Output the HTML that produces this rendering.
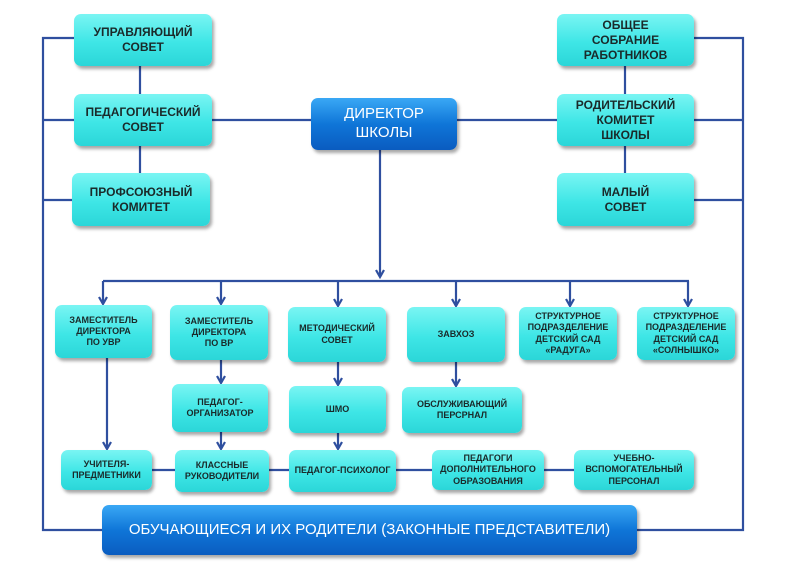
<!DOCTYPE html>
<html><head><meta charset="utf-8"><style>
body{margin:0;width:799px;height:565px;background:#fff;position:relative;overflow:hidden;font-family:"Liberation Sans",sans-serif}
.b{position:absolute;box-sizing:border-box;border-radius:7px;background:linear-gradient(180deg,#7af5f3 0%,#3ee6e6 55%,#2bd6d8 100%);box-shadow:2px 3px 3px rgba(0,0,0,.35);display:flex;align-items:center;justify-content:center;text-align:center;font-weight:bold;color:#1a2a2a;line-height:1.25}
.l{font-size:12px}.s{font-size:9px}
.d{background:linear-gradient(180deg,#3aa8f5 0%,#0f76d8 50%,#0a5cc0 100%);color:#fff;font-weight:normal}
svg{position:absolute;left:0;top:0}
</style></head><body>
<svg width="799" height="565">
<defs><marker id="a" markerWidth="10" markerHeight="10" refX="8" refY="5" orient="auto" markerUnits="userSpaceOnUse"><path d="M1,1 L8,5 L1,9" fill="none" stroke="#2f4f9f" stroke-width="2.2"/></marker></defs>
<g stroke="#2f4f9f" stroke-width="2.2" fill="none">
<path d="M74,38 H43 V530 H102"/><path d="M43,120 H74"/><path d="M43,200 H72"/>
<path d="M694,38 H743 V530 H637"/><path d="M694,120 H743"/><path d="M694,200 H743"/>
<path d="M140,66 V94 M140,146 V173 M625,66 V94 M625,146 V173"/>
<path d="M212,120 H311 M457,120 H557"/>
<path d="M380,150 V277" marker-end="url(#a)"/>
<path d="M103,281 H689"/>
<path d="M103,281 V304" marker-end="url(#a)"/><path d="M221,281 V304" marker-end="url(#a)"/><path d="M338,281 V306" marker-end="url(#a)"/><path d="M456,281 V306" marker-end="url(#a)"/><path d="M570,281 V306" marker-end="url(#a)"/><path d="M688,281 V306" marker-end="url(#a)"/>
<path d="M107,358 V449" marker-end="url(#a)"/>
<path d="M221,360 V383" marker-end="url(#a)"/><path d="M221,432 V449" marker-end="url(#a)"/>
<path d="M338,362 V385" marker-end="url(#a)"/><path d="M338,433 V449" marker-end="url(#a)"/>
<path d="M456,362 V386" marker-end="url(#a)"/>
<path d="M152,470 H175 M269,470 H289 M396,470 H432 M544,470 H574"/>
</g></svg>
<div class="b l" style="left:74px;top:14px;width:138px;height:52px">УПРАВЛЯЮЩИЙ<br>СОВЕТ</div>
<div class="b l" style="left:74px;top:94px;width:138px;height:52px">ПЕДАГОГИЧЕСКИЙ<br>СОВЕТ</div>
<div class="b l" style="left:72px;top:173px;width:138px;height:53px">ПРОФСОЮЗНЫЙ<br>КОМИТЕТ</div>
<div class="b d" style="left:311px;top:98px;width:146px;height:52px;font-size:15px">ДИРЕКТОР<br>ШКОЛЫ</div>
<div class="b l" style="left:557px;top:14px;width:137px;height:52px">ОБЩЕЕ<br>СОБРАНИЕ<br>РАБОТНИКОВ</div>
<div class="b l" style="left:557px;top:94px;width:137px;height:52px">РОДИТЕЛЬСКИЙ<br>КОМИТЕТ<br>ШКОЛЫ</div>
<div class="b l" style="left:557px;top:173px;width:137px;height:53px">МАЛЫЙ<br>СОВЕТ</div>
<div class="b s" style="left:55px;top:305px;width:97px;height:53px">ЗАМЕСТИТЕЛЬ<br>ДИРЕКТОРА<br>ПО УВР</div>
<div class="b s" style="left:170px;top:305px;width:98px;height:55px">ЗАМЕСТИТЕЛЬ<br>ДИРЕКТОРА<br>ПО ВР</div>
<div class="b s" style="left:288px;top:307px;width:98px;height:55px">МЕТОДИЧЕСКИЙ<br>СОВЕТ</div>
<div class="b s" style="left:407px;top:307px;width:98px;height:55px">ЗАВХОЗ</div>
<div class="b s" style="left:519px;top:307px;width:98px;height:53px">СТРУКТУРНОЕ<br>ПОДРАЗДЕЛЕНИЕ<br>ДЕТСКИЙ САД<br>«РАДУГА»</div>
<div class="b s" style="left:637px;top:307px;width:98px;height:53px">СТРУКТУРНОЕ<br>ПОДРАЗДЕЛЕНИЕ<br>ДЕТСКИЙ САД<br>«СОЛНЫШКО»</div>
<div class="b s" style="left:172px;top:384px;width:96px;height:48px">ПЕДАГОГ-<br>ОРГАНИЗАТОР</div>
<div class="b s" style="left:289px;top:386px;width:97px;height:47px">ШМО</div>
<div class="b s" style="left:402px;top:387px;width:120px;height:46px">ОБСЛУЖИВАЮЩИЙ<br>ПЕРСРНАЛ</div>
<div class="b s" style="left:61px;top:450px;width:91px;height:40px">УЧИТЕЛЯ-<br>ПРЕДМЕТНИКИ</div>
<div class="b s" style="left:175px;top:450px;width:94px;height:42px">КЛАССНЫЕ<br>РУКОВОДИТЕЛИ</div>
<div class="b s" style="left:289px;top:450px;width:107px;height:42px">ПЕДАГОГ-ПСИХОЛОГ</div>
<div class="b s" style="left:432px;top:450px;width:112px;height:40px">ПЕДАГОГИ<br>ДОПОЛНИТЕЛЬНОГО<br>ОБРАЗОВАНИЯ</div>
<div class="b s" style="left:574px;top:450px;width:120px;height:40px">УЧЕБНО-<br>ВСПОМОГАТЕЛЬНЫЙ<br>ПЕРСОНАЛ</div>
<div class="b d" style="left:102px;top:505px;width:535px;height:50px;font-size:15px">ОБУЧАЮЩИЕСЯ И ИХ РОДИТЕЛИ (ЗАКОННЫЕ ПРЕДСТАВИТЕЛИ)</div>
</body></html>
